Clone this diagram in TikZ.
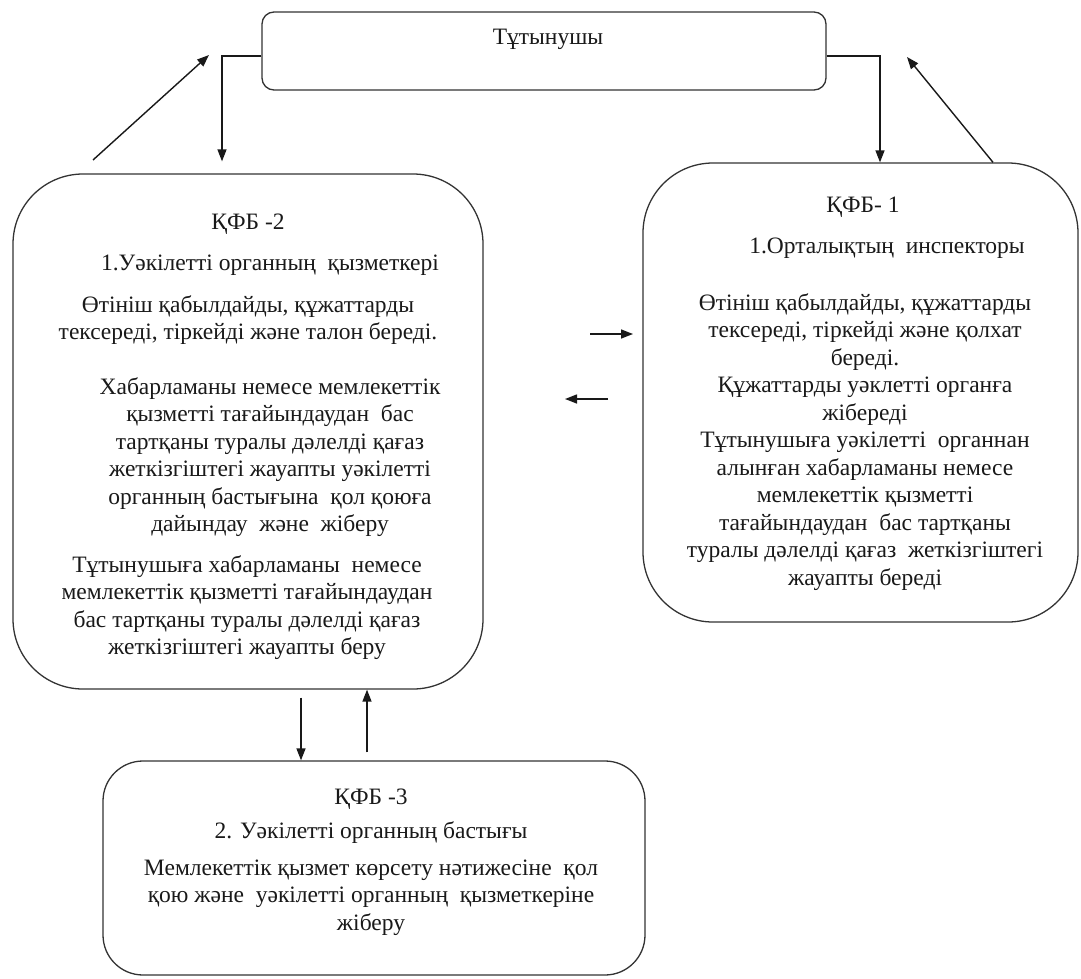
\documentclass[tikz,border=0pt]{standalone}
\usepackage{fontspec}
\setmainfont{Liberation Serif}
\usetikzlibrary{arrows.meta}
\tikzset{
  box/.style={draw=black!80, line width=1.3pt, inner sep=0pt},
  txt/.style={font=\fontsize{23.5}{27.5}\selectfont, align=center, inner sep=0pt, anchor=north, text=black!90},
  arr/.style={line width=1.4pt, draw=black!90, -{Triangle[length=12pt,width=9pt]}},
}
\begin{document}
\begin{tikzpicture}[x=1pt,y=-1pt]
\fill[white] (0,0) rectangle (1081,979);
\useasboundingbox (0,0) rectangle (1081,979);

% boxes
\node[box, rounded corners=12pt, minimum width=564pt, minimum height=78pt] (top) at (544,51) {};
\node[box, rounded corners=70pt, minimum width=470pt, minimum height=515pt] (lbox) at (248,431.5) {};
\node[box, rounded corners=70pt, minimum width=435pt, minimum height=459pt] (rbox) at (860.5,392.5) {};
\node[box, rounded corners=40pt, minimum width=542pt, minimum height=214pt] (bbox) at (374,868) {};

% texts
\node[txt] (ttop) at (548,25) {\strut Тұтынушы};

\node[txt] (kfb2) at (248,210) {\strut ҚФБ -2};
\node[txt] (l1) at (270,251) {\strut 1.Уәкілетті органның\ \ қызметкері};
\node[txt] (l2) at (248,293) {\strut Өтініш қабылдайды, құжаттарды\\тексереді, тіркейді және талон береді.};
\node[txt] (l3) at (270,375) {\strut Хабарламаны немесе мемлекеттік\\қызметті тағайындаудан\ \ бас\\тартқаны туралы дәлелді қағаз\\жеткізгіштегі жауапты уәкілетті\\органның бастығына\ \ қол қоюға\\дайындау\ \ және\ \ жіберу};
\node[txt] (l4) at (247,553) {\strut Тұтынушыға хабарламаны\ \ немесе\\мемлекеттік қызметті тағайындаудан\\бас тартқаны туралы дәлелді қағаз\\жеткізгіштегі жауапты беру};

\node[txt] (kfb1) at (863,193) {\strut ҚФБ- 1};
\node[txt] (r1) at (887,234) {\strut 1.Орталықтың\ \ инспекторы};
\node[txt] (r2) at (865,291) {\strut Өтініш қабылдайды, құжаттарды\\тексереді, тіркейді және қолхат\\береді.\\Құжаттарды уәклетті органға\\жібереді\\Тұтынушыға уәкілетті\ \ органнан\\алынған хабарламаны немесе\\мемлекеттік қызметті\\тағайындаудан\ \ бас тартқаны\\туралы дәлелді қағаз\ \ жеткізгіштегі\\жауапты береді};

\node[txt] (kfb3) at (371,785) {\strut ҚФБ -3};
\node[txt] (b1) at (371,819) {\strut 2. Уәкілетті органның бастығы};
\node[txt] (b2) at (371,856) {\strut Мемлекеттік қызмет көрсету нәтижесіне\ \ қол\\қою және\ \ уәкілетті органның\ \ қызметкеріне\\жіберу};

% free ends
\coordinate (d1s) at (93,160);
\coordinate (d1e) at (209,55);
\coordinate (d2e) at (907,57);
\coordinate (m1s) at (590,334);
\coordinate (m1e) at (633,334);
\coordinate (m2s) at (608,399);
\coordinate (m2e) at (565,399);

% connectors
\draw[arr] ([yshift=-5pt]top.west) -| ([xshift=-26pt,yshift=12pt]lbox.north);
\draw[arr] ([yshift=-5pt]top.east) -| ([xshift=19.5pt]rbox.north);
\draw[arr] (d1s) -- (d1e);
\draw[arr] ([xshift=132.5pt]rbox.north) -- (d2e);
\draw[arr] ([xshift=53pt,yshift=-8pt]lbox.south) -- ([xshift=-73pt]bbox.north);
\draw[arr] ([xshift=-7pt,yshift=8pt]bbox.north) -- ([xshift=119pt]lbox.south);
\draw[arr] (m1s) -- (m1e);
\draw[arr] (m2s) -- (m2e);
\end{tikzpicture}
\end{document}
